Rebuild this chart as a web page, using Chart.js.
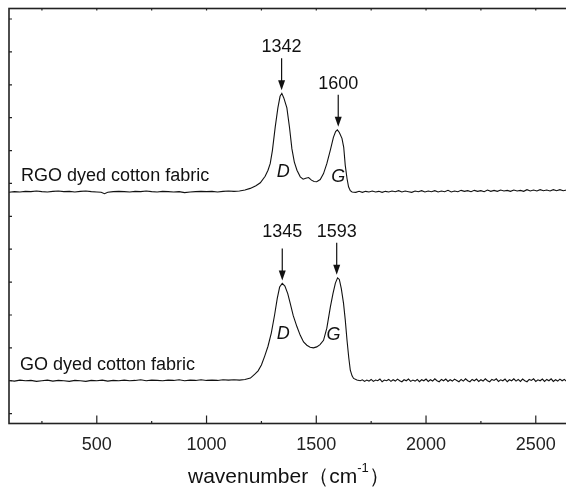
<!DOCTYPE html>
<html lang="en">
<head>
<meta charset="UTF-8">
<title>Raman spectra of dyed cotton fabric</title>
<script src="https://cdn.jsdelivr.net/npm/chart.js@4"></script>
<style>
    body {
        margin: 0;
        background: #fff;
        overflow: hidden;
    }
    #wrap {
        width: 572px;
        height: 492px;
    }
</style>
</head>
<body>
<div id="wrap"><canvas id="raman" width="572" height="492"></canvas></div>
<script>
    // wavenumber axis
    const xTicks = [500, 1000, 1500, 2000, 2500];
    const xMinorTicks = [250, 750, 1250, 1750, 2250];
    const yTicks = [0, 1, 2, 3, 4, 5, 6, 7, 8, 9, 10, 11, 12];

    const seriesNames = ['RGO dyed cotton fabric', 'GO dyed cotton fabric'];
    const bandNames = ['D', 'G'];
    const rgoPeaks = [1342, 1600];
    const goPeaks = [1345, 1593];

    // [wavenumber, intensity (offset, a.u.)]
    const rgoPoints = [
        [100, 6.73], [125, 6.75], [150, 6.74], [175, 6.76], [200, 6.75], [225, 6.77], [250, 6.75],
        [275, 6.74], [300, 6.76], [325, 6.77], [350, 6.75], [375, 6.76], [400, 6.74], [425, 6.76],
        [450, 6.77], [475, 6.75], [500, 6.74], [520, 6.73], [535, 6.69], [550, 6.73], [575, 6.75],
        [600, 6.76], [625, 6.75], [650, 6.74], [675, 6.76], [700, 6.75], [725, 6.77], [750, 6.75],
        [775, 6.74], [800, 6.76], [825, 6.75], [850, 6.74], [875, 6.75], [900, 6.72], [925, 6.74],
        [950, 6.75], [975, 6.76], [1000, 6.75], [1025, 6.76], [1050, 6.74], [1075, 6.76], [1100, 6.77],
        [1125, 6.76], [1150, 6.77], [1175, 6.8], [1199, 6.85], [1225, 6.93], [1245, 7.02], [1267, 7.22],
        [1280, 7.4], [1290, 7.6], [1300, 8.0], [1313, 8.72], [1325, 9.3], [1335, 9.65], [1343, 9.74],
        [1352, 9.6], [1366, 9.3], [1378, 8.7], [1389, 8.05], [1400, 7.65], [1412, 7.4], [1427, 7.2],
        [1440, 7.13], [1452, 7.16], [1465, 7.18], [1478, 7.1], [1490, 7.06], [1502, 7.05], [1518, 7.12],
        [1533, 7.3], [1548, 7.6], [1564, 8.01], [1578, 8.4], [1588, 8.58], [1596, 8.63], [1605, 8.55],
        [1617, 8.37], [1625, 8.1], [1632, 7.55], [1640, 7.15], [1647, 6.9], [1655, 6.78], [1663, 6.74],
        [1680, 6.73], [1695, 6.76], [1710, 6.73], [1725, 6.76], [1740, 6.74], [1755, 6.77], [1770, 6.74],
        [1785, 6.76], [1800, 6.73], [1815, 6.76], [1830, 6.74], [1845, 6.77], [1860, 6.75], [1875, 6.78],
        [1890, 6.74], [1905, 6.77], [1920, 6.75], [1935, 6.73], [1950, 6.77], [1965, 6.75], [1980, 6.78],
        [1995, 6.74], [2010, 6.77], [2025, 6.75], [2040, 6.78], [2055, 6.74], [2070, 6.77], [2085, 6.75],
        [2100, 6.79], [2115, 6.74], [2130, 6.77], [2145, 6.75], [2160, 6.79], [2175, 6.76], [2190, 6.78],
        [2205, 6.75], [2220, 6.79], [2235, 6.76], [2250, 6.78], [2265, 6.75], [2280, 6.8], [2295, 6.76],
        [2310, 6.79], [2325, 6.76], [2340, 6.8], [2355, 6.77], [2370, 6.79], [2385, 6.76], [2400, 6.8],
        [2415, 6.77], [2430, 6.79], [2445, 6.76], [2460, 6.81], [2475, 6.77], [2490, 6.8], [2505, 6.77],
        [2520, 6.81], [2535, 6.78], [2550, 6.8], [2565, 6.77], [2580, 6.81], [2595, 6.78], [2610, 6.81],
        [2625, 6.78], [2640, 6.8], [2650, 6.79]
    ];

    const goPoints = [
        [100, 1.01], [125, 0.99], [150, 1.02], [175, 1.0], [200, 1.01], [225, 0.98], [250, 1.0],
        [275, 1.02], [300, 0.99], [325, 1.01], [350, 1.0], [375, 0.98], [400, 1.01], [425, 1.0],
        [450, 0.98], [475, 1.01], [500, 1.0], [525, 1.02], [550, 0.99], [575, 1.01], [600, 1.0],
        [625, 1.02], [650, 1.0], [675, 1.01], [700, 1.03], [725, 1.0], [750, 1.02], [775, 1.01],
        [800, 1.0], [825, 1.02], [850, 1.01], [875, 1.03], [900, 1.0], [925, 1.02], [950, 1.01],
        [975, 1.03], [1000, 1.01], [1025, 1.02], [1050, 1.01], [1075, 1.03], [1100, 1.02], [1125, 1.03],
        [1150, 1.02], [1175, 1.04], [1200, 1.08], [1220, 1.2], [1235, 1.3], [1250, 1.48], [1265, 1.75],
        [1280, 2.05], [1295, 2.45], [1310, 3.0], [1322, 3.5], [1333, 3.85], [1345, 3.96], [1357, 3.88],
        [1370, 3.65], [1381, 3.36], [1395, 2.98], [1412, 2.64], [1427, 2.38], [1442, 2.18], [1457, 2.08],
        [1472, 2.02], [1487, 2.0], [1502, 2.03], [1517, 2.1], [1533, 2.23], [1548, 2.6], [1564, 3.24],
        [1576, 3.65], [1587, 3.97], [1597, 4.13], [1605, 4.08], [1614, 3.8], [1624, 3.36], [1632, 2.85],
        [1640, 2.23], [1648, 1.7], [1655, 1.32], [1663, 1.15], [1670, 1.07], [1685, 1.02],
        [1700, 1.0], [1710, 1.03], [1720, 0.98], [1730, 1.02], [1740, 0.99], [1750, 1.04], [1760, 0.98],
        [1770, 1.02], [1780, 1.0], [1790, 1.05], [1800, 0.97], [1810, 1.02], [1820, 1.0], [1830, 1.04],
        [1840, 0.98], [1850, 1.03], [1860, 0.99], [1870, 1.05], [1880, 1.0], [1890, 0.97], [1900, 1.03],
        [1910, 1.0], [1920, 1.05], [1930, 0.98], [1940, 1.02], [1950, 0.99], [1960, 1.04], [1970, 0.97],
        [1980, 1.03], [1990, 1.0], [2000, 1.05], [2010, 0.98], [2020, 1.03], [2030, 0.99], [2040, 1.06],
        [2050, 1.0], [2060, 0.97], [2070, 1.04], [2080, 1.0], [2090, 1.05], [2100, 0.98], [2110, 1.03],
        [2120, 0.99], [2130, 1.05], [2140, 1.01], [2150, 0.97], [2160, 1.04], [2170, 0.99], [2180, 1.06],
        [2190, 1.0], [2200, 0.97], [2210, 1.04], [2220, 1.0], [2230, 1.05], [2240, 0.98], [2250, 1.03],
        [2260, 0.99], [2270, 1.06], [2280, 1.0], [2290, 0.97], [2300, 1.04], [2310, 1.01], [2320, 1.06],
        [2330, 0.98], [2340, 1.03], [2350, 1.0], [2360, 1.05], [2370, 0.97], [2380, 1.03], [2390, 1.0],
        [2400, 1.06], [2410, 0.99], [2420, 1.04], [2430, 0.98], [2440, 1.05], [2450, 1.0], [2460, 0.97],
        [2470, 1.04], [2480, 1.01], [2490, 1.06], [2500, 0.98], [2510, 1.03], [2520, 1.0], [2530, 1.05],
        [2540, 0.98], [2550, 1.04], [2560, 1.0], [2570, 1.06], [2580, 0.98], [2590, 1.03], [2600, 0.99],
        [2610, 1.05], [2620, 1.0], [2630, 1.04], [2640, 0.98], [2650, 1.02]
    ];

    const FONT = "'Liberation Sans', Arial, sans-serif";

    function toXY(points) {
        return points.map(p => ({ x: p[0], y: p[1] }));
    }

    // highest intensity near a given wavenumber
    function peakValue(points, wave) {
        let best = -Infinity;
        points.forEach(p => {
            if (Math.abs(p[0] - wave) <= 15 && p[1] > best) best = p[1];
        });
        return best;
    }

    function drawArrow(ctx, px, yTop, yTip) {
        ctx.beginPath();
        ctx.moveTo(px, yTop);
        ctx.lineTo(px, yTip - 6);
        ctx.stroke();
        ctx.beginPath();
        ctx.moveTo(px - 3.5, yTip - 10);
        ctx.lineTo(px + 3.5, yTip - 10);
        ctx.lineTo(px, yTip);
        ctx.closePath();
        ctx.fill();
    }

    const framePlugin = {
        id: 'frame',
        afterDraw(chart) {
            const { ctx, chartArea: a, scales: { x, y } } = chart;
            ctx.save();
            ctx.strokeStyle = '#222';
            ctx.fillStyle = '#222';
            ctx.lineWidth = 1.6;
            ctx.strokeRect(a.left, a.top, a.right - a.left, a.bottom - a.top);

            ctx.lineWidth = 1.2;
            ctx.beginPath();
            xTicks.forEach(v => {
                const px = x.getPixelForValue(v);
                ctx.moveTo(px, a.bottom); ctx.lineTo(px, a.bottom - 8);
                ctx.moveTo(px, a.top); ctx.lineTo(px, a.top + 2);
            });
            xMinorTicks.forEach(v => {
                const px = x.getPixelForValue(v);
                ctx.moveTo(px, a.bottom); ctx.lineTo(px, a.bottom - 2.5);
                ctx.moveTo(px, a.top); ctx.lineTo(px, a.top + 2);
            });
            yTicks.forEach(v => {
                const py = y.getPixelForValue(v);
                ctx.moveTo(a.left, py); ctx.lineTo(a.left + 3, py);
            });
            ctx.stroke();

            // peak labels with arrows; GO labels share one row
            ctx.lineWidth = 1.2;
            ctx.fillStyle = '#111';
            ctx.strokeStyle = '#111';
            ctx.font = '18px ' + FONT;
            ctx.textAlign = 'center';
            ctx.textBaseline = 'middle';
            const peakSets = [[rgoPoints, rgoPeaks, false], [goPoints, goPeaks, true]];
            peakSets.forEach(([pts, peaks, sameRow]) => {
                const marks = peaks.map(w => {
                    const tip = y.getPixelForValue(peakValue(pts, w)) - 3;
                    return { w, px: x.getPixelForValue(w), tip, top: tip - 32 };
                });
                const rowY = Math.min(...marks.map(m => m.top)) - 11;
                marks.forEach(m => {
                    drawArrow(ctx, m.px, m.top, m.tip);
                    ctx.fillText(String(m.w), m.px, sameRow ? rowY : m.top - 11);
                });
            });

            // band letters
            ctx.font = 'italic 18px ' + FONT;
            const bandPos = [
                [[1350, 7.35], [1600, 7.2]],
                [[1350, 2.43], [1578, 2.38]]
            ];
            bandPos.forEach(pair => {
                pair.forEach((p, i) => {
                    ctx.fillText(bandNames[i], x.getPixelForValue(p[0]), y.getPixelForValue(p[1]));
                });
            });

            // series names
            ctx.font = '18px ' + FONT;
            ctx.textAlign = 'left';
            ctx.fillText(seriesNames[0], x.getPixelForValue(155), y.getPixelForValue(7.22));
            ctx.fillText(seriesNames[1], x.getPixelForValue(150), y.getPixelForValue(1.47));

            // axis title with superscript
            const main1 = 'wavenumber\uFF08cm';
            const sup = '-1';
            const main2 = '\uFF09';
            const mainFont = '21px ' + FONT;
            const supFont = '13px ' + FONT;
            ctx.font = mainFont;
            const w1 = ctx.measureText(main1).width;
            const w3 = ctx.measureText(main2).width;
            ctx.font = supFont;
            const w2 = ctx.measureText(sup).width;
            const total = w1 + w2 + w3;
            let tx = (a.left + a.right) / 2 - total / 2;
            const ty = 477;
            ctx.textBaseline = 'middle';
            ctx.font = mainFont;
            ctx.fillText(main1, tx, ty);
            tx += w1;
            ctx.font = supFont;
            ctx.fillText(sup, tx, ty - 9);
            tx += w2;
            ctx.font = mainFont;
            ctx.fillText(main2, tx, ty);
            ctx.restore();
        }
    };

    new Chart(document.getElementById('raman'), {
        type: 'line',
        data: {
            datasets: [
                {
                    label: seriesNames[0],
                    data: toXY(rgoPoints),
                    borderColor: '#111',
                    borderWidth: 1.1,
                    pointRadius: 0,
                    tension: 0
                },
                {
                    label: seriesNames[1],
                    data: toXY(goPoints),
                    borderColor: '#111',
                    borderWidth: 1.1,
                    pointRadius: 0,
                    tension: 0
                }
            ]
        },
        options: {
            responsive: false,
            animation: false,
            events: [],
            layout: { padding: { left: 9, top: 8.5, right: 3.3, bottom: 0 } },
            plugins: {
                legend: { display: false },
                tooltip: { enabled: false }
            },
            scales: {
                x: {
                    type: 'linear',
                    min: 100,
                    max: 2650,
                    grid: { display: false, drawTicks: false },
                    border: { display: false },
                    afterBuildTicks: s => { s.ticks = xTicks.map(v => ({ value: v })); },
                    afterFit: s => { s.height = 68.5; },
                    ticks: {
                        color: '#222',
                        padding: 11,
                        maxRotation: 0,
                        autoSkip: false,
                        font: { family: FONT, size: 18 },
                        callback: v => String(v)
                    }
                },
                y: {
                    display: false,
                    min: -0.3,
                    max: 12.32
                }
            }
        },
        plugins: [framePlugin]
    });
</script>
</body>
</html>
